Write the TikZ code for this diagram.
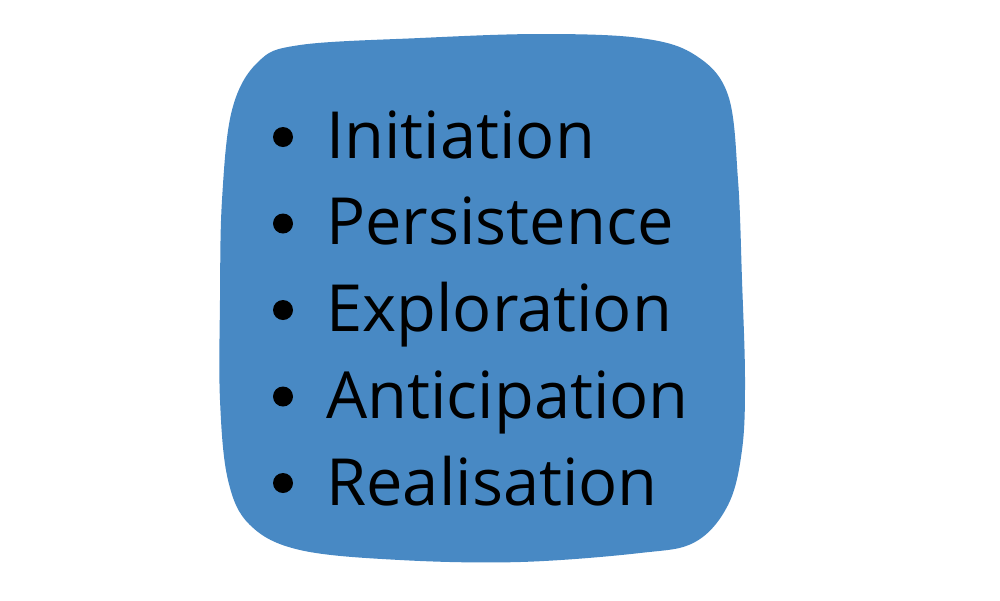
\documentclass[tikz,border=0pt]{standalone}
\usepackage{fontspec}
\setmainfont{Open Sans}
\definecolor{blobblue}{RGB}{72,137,196}
\tikzset{
  bulletdot/.style={circle, fill=black, inner sep=0pt, minimum size=0.4cm},
  itemtext/.style={anchor=base west, inner sep=0pt, font=\fontsize{37}{44}\selectfont}
}
\begin{document}
\begin{tikzpicture}[x=0.02cm,y=-0.02cm]
\useasboundingbox (0,0) rectangle (1000,600);

% the blue blob
\fill[blobblue] plot[smooth cycle, tension=0.6] coordinates {
  (300,45) (420,38) (540,34) (640,38) (695,55) (728,95) (738,180)
  (742,280) (745,380) (742,450) (728,505) (695,542) (640,553)
  (520,562) (400,560) (300,550) (250,525) (228,480) (220,400)
  (220,300) (222,200) (232,110) (258,62)};

% the list
\foreach \word [count=\i] in {Initiation,Persistence,Exploration,Anticipation,Realisation}{
  \node[itemtext] (item\i) at (326,{158+86.75*(\i-1)}) {\word};
  \node[bulletdot] (dot\i) at (283,{137+86.5*(\i-1)}) {};
}

\end{tikzpicture}
\end{document}
